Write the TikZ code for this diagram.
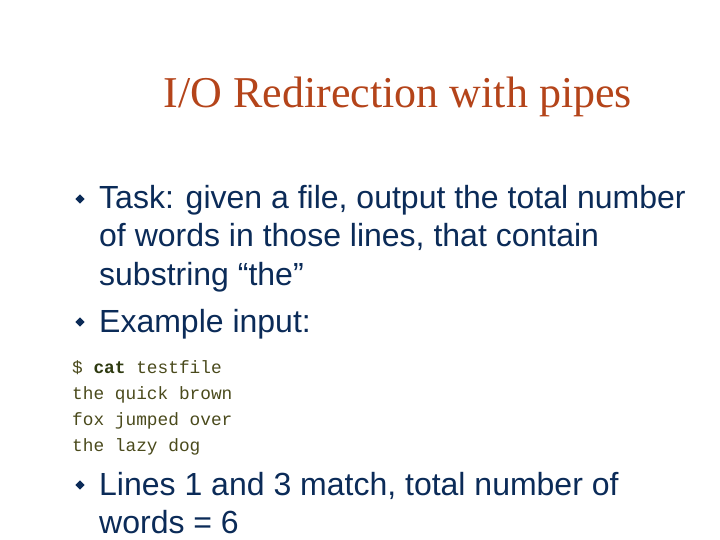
\documentclass[tikz,border=0pt]{standalone}
\usepackage{fontspec}
\setmainfont{Liberation Sans}
\newfontfamily\titlefont{Liberation Serif}
\newfontfamily\codefont{Liberation Mono}
\definecolor{titlec}{HTML}{B4441A}
\definecolor{bodyc}{HTML}{0B2B58}
\definecolor{codec}{HTML}{4A4A1C}
\definecolor{codeb}{HTML}{2E3A10}
\begin{document}
\begin{tikzpicture}[x=1pt,y=-1pt,
  body/.style={anchor=base west,inner sep=0pt,text=bodyc,font=\fontsize{32}{38}\selectfont},
  code/.style={anchor=base west,inner sep=0pt,text=codec,font=\codefont\fontsize{17.8}{20}\selectfont},
  bul/.style={fill=bodyc,shape=rectangle,rotate=45,inner sep=0pt,minimum size=6.5pt}]
\useasboundingbox (0,0) rectangle (720,540);
\node[anchor=base,inner sep=0pt,text=titlec,font=\titlefont\fontsize{44}{52}\selectfont] (title) at (398,108) {I/O Redirection with pipes};
\node[bul] (b1) at (80,199) {};
\node[body] (t1) at (99,209) {Task: given a file, output the total number};
\node[body] (t2) at (99,247) {of words in those lines, that contain};
\node[body] (t3) at (99,285) {substring “the”};
\node[bul] (b2) at (80,322) {};
\node[body] (t4) at (99,332) {Example input:};
\node[code] (c1) at (72,373) {\$ {\bfseries\color{codeb}cat} testfile};
\node[code] (c2) at (72,399) {the quick brown};
\node[code] (c3) at (72,425) {fox jumped over};
\node[code] (c4) at (72,451) {the lazy dog};
\node[bul] (b3) at (80,485) {};
\node[body] (t5) at (99,495) {Lines 1 and 3 match, total number of};
\node[body] (t6) at (99,533) {words = 6};
\end{tikzpicture}
\end{document}
